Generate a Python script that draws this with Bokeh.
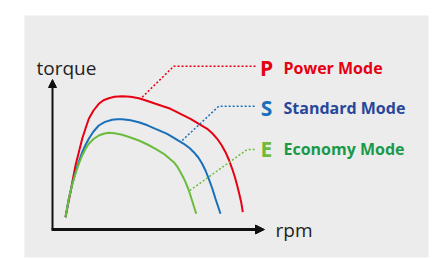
from bokeh.plotting import figure
from bokeh.models import Range1d, Arrow, NormalHead
from bokeh.core.properties import value
from bokeh.embed import file_html
from bokeh.resources import INLINE

# ---- data (arbitrary schematic units: rpm, torque) ----
power_rpm = [13, 15.5, 18, 20.5, 23, 26.5, 29.7, 33, 36.3, 41, 46.3, 51, 56.3, 62, 69.7, 78, 86.3, 95, 103, 118, 138, 154.7, 160, 164.7, 169, 173, 176.5, 179.7, 182.5, 184.7, 186.8, 188.7, 190.3]
power_torque = [12.3, 25, 37.3, 51, 64, 78, 90.7, 101, 110.7, 119, 125.7, 129.3, 131.3, 132.8, 133.3, 132.8, 131.3, 128.5, 125.7, 120.7, 110.7, 100.7, 96, 90.7, 84.5, 77.3, 69.5, 60.7, 52, 44, 35.5, 27.3, 17.3]

standard_rpm = [13, 16.3, 19.5, 23, 26.5, 29.7, 33, 36.3, 41, 46.3, 52.5, 59.7, 64.5, 69.7, 78, 86.3, 95, 103, 114.7, 131.3, 137, 141.3, 145.8, 149.7, 153.2, 156.3, 159.8, 163, 168]
standard_torque = [12.3, 30.7, 44.5, 57.3, 68.2, 77.3, 84.5, 90.7, 98, 104, 107.6, 109.7, 110.2, 110.3, 109.2, 107.3, 104.2, 100.7, 95.7, 85.7, 81.5, 77.3, 72, 65.7, 58.5, 50.7, 41, 30.7, 15.7]

economy_rpm = [13, 16.3, 19.5, 23, 26.5, 29.7, 33, 36.3, 41, 46.3, 51, 56.3, 62, 69.7, 78, 86.3, 95, 103, 111.3, 121.3, 125, 128, 130.7, 133, 135.6, 138, 140.8, 143.7]
economy_torque = [12.3, 30.7, 44, 56, 66, 74, 80.5, 85.7, 90.5, 94, 95.8, 96.7, 96.3, 94.7, 92, 89, 85, 80.7, 75.7, 67.3, 62.6, 57.3, 52.3, 47.3, 41, 34, 25, 15.7]

# leader lines (from curve to label)
power_leader_x = [89.7, 121.3, 203]
power_leader_y = [132.3, 163.3, 163.3]
standard_leader_x = [129.7, 166.3, 203]
standard_leader_y = [89, 123.3, 123.3]
economy_leader_x = [137.3, 194.7, 203]
economy_leader_y = [39, 80, 80]

letters = ["P", "S", "E"]
mode_names = ["Power Mode", "Standard Mode", "Economy Mode"]
axis_x_label = "rpm"
axis_y_label = "torque"

# ---- layout / style ----
RED = "#e60012"
BLUE = "#1a6fba"
NAVY = "#27479a"
GREEN = "#6cbb3c"
DGREEN = "#1a9a48"
GRAY_BG = "#ececec"

label_y = [162, 122, 81]
letter_x = 214
name_x = 231

p = figure(width=445, height=259, output_backend="svg", toolbar_location=None,
           x_range=Range1d(-28, 376), y_range=Range1d(-28, 214),
           min_border_left=24, min_border_right=17, min_border_top=15, min_border_bottom=2)
p.axis.visible = False
p.grid.visible = False
p.outline_line_color = None
p.background_fill_color = GRAY_BG
p.border_fill_color = "white"

# axes drawn as arrows
p.add_layout(Arrow(end=NormalHead(size=9, fill_color="#111111", line_color="#111111"),
                   x_start=-1, y_start=0, x_end=212, y_end=0,
                   line_width=3, line_color="#111111"))
p.add_layout(Arrow(end=NormalHead(size=8, fill_color="#111111", line_color="#111111"),
                   x_start=0, y_start=0, x_end=0, y_end=150,
                   line_width=2, line_color="#111111"))

# curves
p.line(power_rpm, power_torque, line_color=RED, line_width=2)
p.line(standard_rpm, standard_torque, line_color=BLUE, line_width=2)
p.line(economy_rpm, economy_torque, line_color=GREEN, line_width=2)

# leaders
p.line(power_leader_x, power_leader_y, line_color=RED, line_width=1.5, line_dash="2 2")
p.line(standard_leader_x, standard_leader_y, line_color=BLUE, line_width=1.5, line_dash="2 2")
p.line(economy_leader_x, economy_leader_y, line_color=GREEN, line_width=1.5, line_dash="2 2")

# letters and names
p.text(x=[letter_x] * 3, y=label_y, text=letters, text_color=[RED, BLUE, GREEN],
       text_font=value("Open Sans"), text_font_style="bold", text_font_size="21px",
       text_align="center", text_baseline="middle")
p.text(x=[name_x] * 3, y=label_y, text=mode_names, text_color=[RED, NAVY, DGREEN],
       text_font=value("Open Sans"), text_font_style="bold", text_font_size="16px",
       text_align="left", text_baseline="middle")

# axis titles
p.text(x=[-16], y=[162], text=[axis_y_label], text_color="#222222",
       text_font=value("Open Sans"), text_font_size="19px",
       text_align="left", text_baseline="alphabetic")
p.text(x=[223], y=[0], text=[axis_x_label], text_color="#222222",
       text_font=value("Open Sans"), text_font_size="19px",
       text_align="left", text_baseline="alphabetic")

open("out.html", "w").write(file_html(p, INLINE))
